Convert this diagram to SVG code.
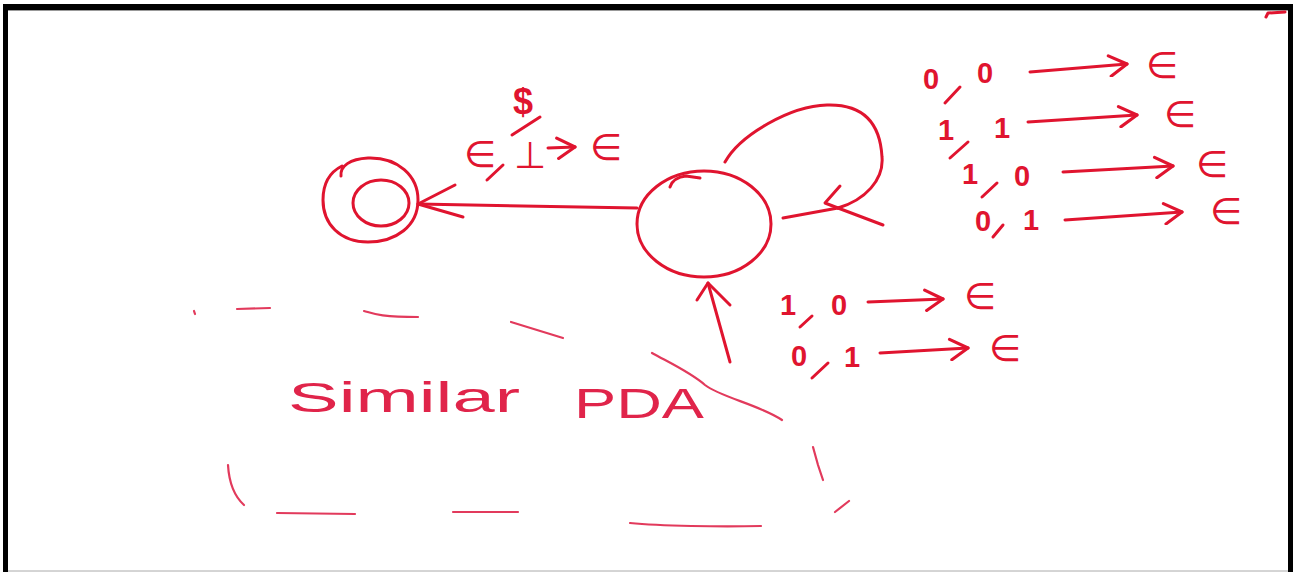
<svg xmlns="http://www.w3.org/2000/svg" width="1293" height="572" viewBox="0 0 1293 572">
<style>
.ink{fill:none;stroke:#e0142f;stroke-width:3;stroke-linecap:round;stroke-linejoin:round}
.thin{fill:none;stroke:#e23a5c;stroke-width:2.2;stroke-linecap:round;stroke-linejoin:round}
.t{fill:#e0142f;font-family:"Liberation Sans",Arial,sans-serif;font-size:29px;font-weight:bold;text-anchor:middle}
.e{fill:#e0142f;font-family:"DejaVu Sans","Liberation Sans",sans-serif;font-size:37px;text-anchor:middle}
.note{fill:#e0244a;font-family:"Liberation Sans",Arial,sans-serif;font-size:42px}
</style>
<defs>
<marker id="head" viewBox="0 0 20 20" refX="18" refY="10" markerWidth="24" markerHeight="24" markerUnits="userSpaceOnUse" orient="auto">
<path d="M3,2 L18,10 L4,19" fill="none" stroke="#e0142f" stroke-width="2.6" stroke-linecap="round" stroke-linejoin="round"/>
</marker>
</defs>
<rect x="0" y="0" width="1293" height="572" fill="#ffffff"/>
<g id="frame">
<rect x="3" y="4" width="1290" height="6" fill="#000"/>
<rect x="3" y="4" width="5" height="568" fill="#000"/>
<rect x="1288" y="4" width="5" height="568" fill="#000"/>
<line x1="8" y1="10.5" x2="1288" y2="10.5" stroke="#999" stroke-width="1"/>
<line x1="8" y1="571" x2="1288" y2="571" stroke="#aaa" stroke-width="1"/>
<path class="ink" d="M1266,17 L1268,13 L1285,12"/>
</g>
<g id="q-accept">
<path class="ink" d="M341,176 C340,166 350,159 368,158 C398,157 418,176 418,200 C418,226 396,242 368,242 C340,242 323,224 323,200 C323,184 330,172 342,166"/>
<ellipse class="ink" cx="381" cy="203" rx="28" ry="23"/>
</g>
<g id="q-main">
<ellipse class="ink" cx="704" cy="224" rx="67" ry="53"/>
<path class="ink" d="M670,187 C672,181 676,177 686,176 L700,178"/>
</g>
<g id="connectors">
<path class="ink" d="M637,208 L418,204"/>
<path class="ink" d="M455,185 L418,204 L463,217"/>
<path class="ink" d="M725,162 C740,135 790,106 827,105 C860,104 880,120 882,157 C884,180 865,200 838,208"/>
<path class="ink" d="M840,186 L825,203 L838,208"/>
<path class="ink" d="M783,218 L838,208 L883,225"/>
<path class="ink" d="M730,362 L708,283"/>
<path class="ink" d="M697,300 L708,283 L730,305"/>
</g>
<g id="labels">
<text class="t" x="523" y="114" style="font-size:36px">$</text>
<path class="ink" d="M512,135 L540,117"/>
<text class="e" x="480" y="167">∈</text>
<path class="ink" d="M487,180 L503,165"/>
<text class="e" x="530" y="168">⊥</text>
<path class="ink" d="M548,148 L575,147" marker-end="url(#head)"/>
<text class="e" x="606" y="160">∈</text>

<text class="t" x="931" y="89">0</text>
<path class="ink" d="M945,103 L960,87"/>
<text class="t" x="985" y="83">0</text>
<path class="ink" d="M1030,72 L1127,64" marker-end="url(#head)"/>
<text class="e" x="1162" y="78">∈</text>

<text class="t" x="946" y="140">1</text>
<path class="ink" d="M950,158 L968,142"/>
<text class="t" x="1002" y="138">1</text>
<path class="ink" d="M1028,122 L1137,115" marker-end="url(#head)"/>
<text class="e" x="1180" y="127">∈</text>

<text class="t" x="970" y="184">1</text>
<path class="ink" d="M982,197 L997,183"/>
<text class="t" x="1022" y="186">0</text>
<path class="ink" d="M1063,172 L1173,166" marker-end="url(#head)"/>
<text class="e" x="1212" y="177">∈</text>

<text class="t" x="983" y="231">0</text>
<path class="ink" d="M993,237 L1003,225"/>
<text class="t" x="1031" y="230">1</text>
<path class="ink" d="M1065,220 L1182,212" marker-end="url(#head)"/>
<text class="e" x="1226" y="224">∈</text>

<text class="t" x="788" y="315">1</text>
<path class="ink" d="M800,327 L812,316"/>
<text class="t" x="839" y="315">0</text>
<path class="ink" d="M868,302 L943,299" marker-end="url(#head)"/>
<text class="e" x="980" y="309">∈</text>

<text class="t" x="799" y="366">0</text>
<path class="ink" d="M812,378 L828,363"/>
<text class="t" x="852" y="367">1</text>
<path class="ink" d="M880,353 L968,348" marker-end="url(#head)"/>
<text class="e" x="1005" y="361">∈</text>
</g>
<g id="note">
<path class="thin" d="M194,311 L195,314"/>
<path class="thin" d="M237,309 L270,308"/>
<path class="thin" d="M364,311 C372,313 378,317 418,317"/>
<path class="thin" d="M511,322 L563,338"/>
<path class="thin" d="M652,353 C668,362 690,372 705,385 C720,397 760,405 782,420"/>
<path class="thin" d="M813,447 L818,465 L823,480"/>
<path class="thin" d="M835,512 L849,501"/>
<path class="thin" d="M228,465 C229,482 233,495 244,505"/>
<path class="thin" d="M277,513 L355,514"/>
<path class="thin" d="M453,512 L518,512"/>
<path class="thin" d="M630,523 C660,526 720,527 761,526"/>
<text class="note" x="288" y="412" textLength="232" lengthAdjust="spacingAndGlyphs">Similar</text>
<text class="note" x="574" y="418" textLength="130" lengthAdjust="spacingAndGlyphs">PDA</text>
</g>
</svg>
